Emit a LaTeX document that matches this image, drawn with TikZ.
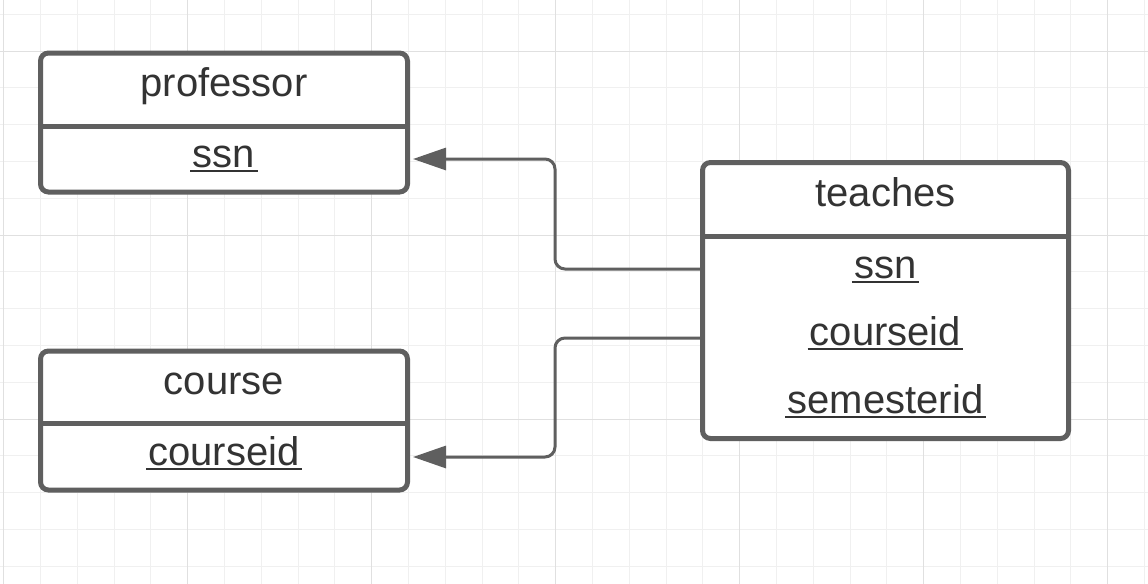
\documentclass[tikz,border=0pt]{standalone}
\usepackage{fontspec}
\setmainfont{Liberation Sans}
\usetikzlibrary{arrows.meta}
\definecolor{boxgray}{HTML}{5F5F5F}
\definecolor{textgray}{HTML}{333333}
\definecolor{gridminor}{HTML}{F0F0F0}
\definecolor{gridmajor}{HTML}{E0E0E0}
\newcommand\pkey[1]{\setbox0=\hbox{#1}\rlap{\kern-1.2pt\rule[-2.4pt]{\dimexpr\wd0+2.4pt\relax}{1.1pt}}\box0}
\tikzset{
  entity/.style={draw=boxgray,line width=2.5pt,rounded corners=4pt,outer sep=0pt,fill=white,inner sep=0pt},
  divider/.style={draw=boxgray,line width=2.5pt},
  label/.style={anchor=base,text=textgray,font=\fontsize{20}{24}\selectfont,inner sep=0pt},
  link/.style={draw=boxgray,line width=1.5pt,rounded corners=5pt,-{Triangle[length=16.5pt,width=11pt]},shorten >=2.75pt}
}
\begin{document}
\begin{tikzpicture}[x=0.5pt,y=-0.5pt]
\useasboundingbox (0,0) rectangle (1148,584);
\fill[white] (0,0) rectangle (1148,584);
% grid
\foreach \i in {0,...,31}
  \draw[gridminor,line width=0.5pt] ({3.7+36.8*\i},0) -- ({3.7+36.8*\i},584);
\foreach \j in {0,...,15}
  \draw[gridminor,line width=0.5pt] (0,{14.2+36.8*\j}) -- (1148,{14.2+36.8*\j});
\foreach \i in {0,5,...,30}
  \draw[gridmajor,line width=0.5pt] ({3.7+36.8*\i},0) -- ({3.7+36.8*\i},584);
\foreach \j in {1,6,11}
  \draw[gridmajor,line width=0.5pt] (0,{14.2+36.8*\j}) -- (1148,{14.2+36.8*\j});

% tables
\node[entity,minimum width=183.5pt,minimum height=69.5pt] (professor) at (224,122.5) {};
\node[entity,minimum width=183.5pt,minimum height=69.5pt] (course) at (224,420.5) {};
\node[entity,minimum width=183pt,minimum height=138pt] (teaches) at (885.5,300.5) {};
\draw[divider] (professor.west |- 0,126) -- (professor.east |- 0,126);
\draw[divider] (course.west |- 0,423) -- (course.east |- 0,423);
\draw[divider] (teaches.west |- 0,236) -- (teaches.east |- 0,236);

\node[label] (professor-name) at (224,96.5) {professor};
\node[label] (professor-ssn) at (224,167.5) {\pkey{ssn}};
\node[label] (course-name) at (224,394) {course};
\node[label] (course-id) at (224,465) {\pkey{courseid}};
\node[label] (teaches-name) at (885.5,206) {teaches};
\node[label] (teaches-ssn) at (885.5,278) {\pkey{ssn}};
\node[label] (teaches-courseid) at (885.5,345) {\pkey{courseid}};
\node[label] (teaches-semesterid) at (885.5,413) {\pkey{semesterid}};

% references
\draw[link] (teaches.west |- 0,269) -- (555,269) |- (professor.east |- 0,159);
\draw[link] (teaches.west |- 0,338) -- (555,338) |- (course.east |- 0,457);
\end{tikzpicture}
\end{document}
